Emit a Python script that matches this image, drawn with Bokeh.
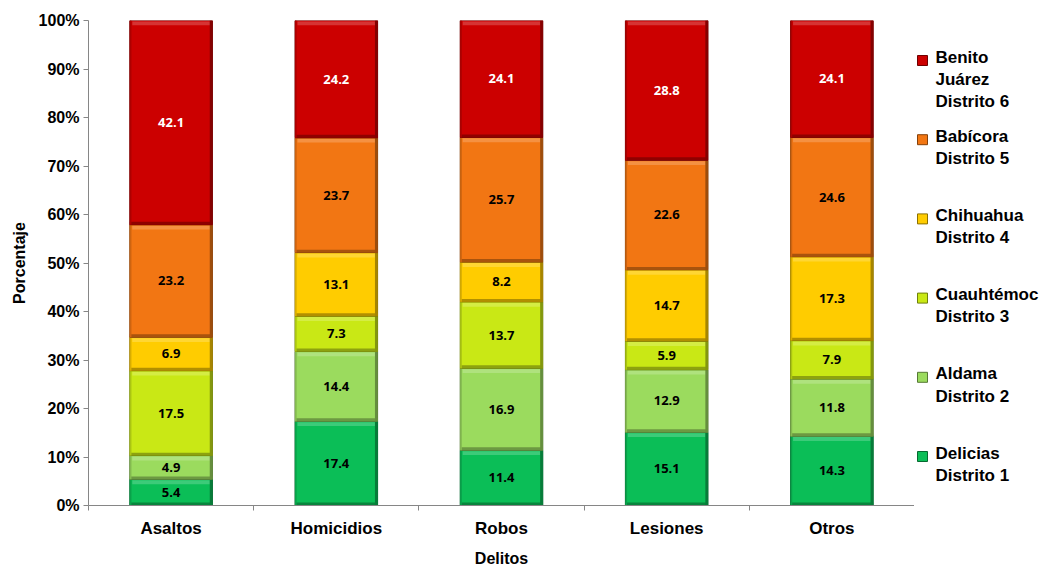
import numpy as np
from bokeh.plotting import figure
from bokeh.models import ColumnDataSource, Range1d, FixedTicker, PrintfTickFormatter
from bokeh.layouts import row
from bokeh.core.properties import value
from bokeh.embed import file_html
from bokeh.resources import INLINE

# ---------------- data ----------------
categories = ["Asaltos", "Homicidios", "Robos", "Lesiones", "Otros"]
series_names = ["Delicias\nDistrito 1", "Aldama\nDistrito 2", "Cuauhtémoc\nDistrito 3",
                "Chihuahua\nDistrito 4", "Babícora\nDistrito 5", "Benito\nJuárez\nDistrito 6"]
delicias = [5.4, 17.4, 11.4, 15.1, 14.3]
aldama = [4.9, 14.4, 16.9, 12.9, 11.8]
cuauhtemoc = [17.5, 7.3, 13.7, 5.9, 7.9]
chihuahua = [6.9, 13.1, 8.2, 14.7, 17.3]
babicora = [23.2, 23.7, 25.7, 22.6, 24.6]
benito_juarez = [42.1, 24.2, 24.1, 28.8, 24.1]
y_ticks = [0, 10, 20, 30, 40, 50, 60, 70, 80, 90, 100]

series = [delicias, aldama, cuauhtemoc, chihuahua, babicora, benito_juarez]
colors = ["#0BBE57", "#9BDB5E", "#C9E815", "#FFCC00", "#F27613", "#CC0000"]
label_colors = ["#000000", "#000000", "#000000", "#000000", "#000000", "#FFFFFF"]


def mix(hexc, other, t):
    c = np.array([int(hexc[i:i + 2], 16) for i in (1, 3, 5)], dtype=float)
    o = np.array([int(other[i:i + 2], 16) for i in (1, 3, 5)], dtype=float)
    m = np.clip(np.round(c * (1 - t) + o * t), 0, 255).astype(int)
    return "#%02X%02X%02X" % tuple(m)


vals = np.array(series, dtype=float)          # (6 series, 5 categories)
pct = vals / vals.sum(axis=0) * 100.0          # 100% stacked
bottoms = np.vstack([np.zeros(len(categories)), np.cumsum(pct, axis=0)[:-1]])
tops = bottoms + pct
xs = np.arange(len(categories)) + 0.5

FONT = "Liberation Sans"
AXIS_COL = "#868686"
BAR_W = 0.5
TOTAL_W, TOTAL_H = 1050, 569
MAIN_W = 914
FRAME_TOP, FRAME_BOTTOM = 20, 505

p = figure(width=MAIN_W, height=TOTAL_H, x_range=Range1d(0, len(categories)), y_range=Range1d(0, 100),
           output_backend="svg", toolbar_location=None, tools="",
           min_border_left=88, min_border_right=0, min_border_top=FRAME_TOP,
           min_border_bottom=TOTAL_H - FRAME_BOTTOM)
p.outline_line_color = None
p.xgrid.visible = False
p.ygrid.visible = False

for j in range(len(series)):
    src = ColumnDataSource(dict(x=xs, bottom=bottoms[j], top=tops[j],
                                mid=(bottoms[j] + tops[j]) / 2,
                                label=["%.1f" % v for v in vals[j]],
                                hl_top=tops[j] - 0.2, hl_bot=tops[j] - 1.0,
                                sh_top=bottoms[j] + 0.6, sh_bot=bottoms[j],
                                r_left=xs + BAR_W / 2 - 0.016, r_right=xs + BAR_W / 2,
                                l_left=xs - BAR_W / 2, l_right=xs - BAR_W / 2 + 0.01))
    c = colors[j]
    p.vbar(x="x", bottom="bottom", top="top", width=BAR_W, source=src,
           fill_color=c, line_color=mix(c, "#000000", 0.45), line_width=1)
    # bevel: highlight on top, shade at bottom and on sides
    p.vbar(x="x", bottom="hl_bot", top="hl_top", width=BAR_W - 0.03, source=src,
           fill_color=mix(c, "#FFFFFF", 0.2), line_color=None)
    p.vbar(x="x", bottom="sh_bot", top="sh_top", width=BAR_W, source=src,
           fill_color=mix(c, "#000000", 0.3), line_color=None)
    p.quad(left="r_left", right="r_right", bottom="bottom", top="top", source=src,
           fill_color=mix(c, "#000000", 0.35), line_color=None)
    p.quad(left="l_left", right="l_right", bottom="bottom", top="top", source=src,
           fill_color=mix(c, "#000000", 0.15), line_color=None)
    p.text(x="x", y="mid", text="label", source=src, text_align="center",
           text_baseline="middle", text_font=value("Open Sans"), text_font_style="bold",
           text_font_size="13px", text_color=label_colors[j])

# y axis
ya = p.yaxis[0]
ya.ticker = FixedTicker(ticks=y_ticks)
ya.formatter = PrintfTickFormatter(format="%d%%")
ya.axis_label = "Porcentaje"
ya.axis_label_text_font = FONT
ya.axis_label_text_font_style = "bold"
ya.axis_label_text_font_size = "16px"
ya.axis_label_text_color = "#000000"
ya.axis_label_standoff = 8
ya.major_label_text_font = FONT
ya.major_label_text_font_style = "bold"
ya.major_label_text_font_size = "16px"
ya.major_label_text_color = "#000000"
ya.major_label_standoff = 4
ya.major_tick_out = 5
ya.major_tick_in = 0
ya.minor_tick_line_color = None
ya.axis_line_color = AXIS_COL
ya.major_tick_line_color = AXIS_COL

# x axis: labels at centres, tick marks at category boundaries
xa = p.xaxis[0]
xa.ticker = FixedTicker(ticks=list(xs), minor_ticks=list(range(len(categories) + 1)))
xa.major_label_overrides = {float(x): c for x, c in zip(xs, categories)}
xa.major_tick_line_color = None
xa.major_tick_out = 0
xa.major_tick_in = 0
xa.minor_tick_out = 5
xa.minor_tick_in = 0
xa.minor_tick_line_color = AXIS_COL
xa.axis_line_color = AXIS_COL
xa.major_label_text_font = FONT
xa.major_label_text_font_style = "bold"
xa.major_label_text_font_size = "17px"
xa.major_label_text_color = "#000000"
xa.major_label_standoff = 8
xa.axis_label = "Delitos"
xa.axis_label_text_font = FONT
xa.axis_label_text_font_style = "bold"
xa.axis_label_text_font_size = "16px"
xa.axis_label_text_color = "#000000"
xa.axis_label_standoff = 9

# ---------------- legend (separate panel; its frame is aligned with the main frame) ----------------
LW, LH = TOTAL_W - MAIN_W, TOTAL_H
lg = figure(width=LW, height=LH, x_range=Range1d(0, LW), y_range=Range1d(FRAME_BOTTOM, FRAME_TOP),
            output_backend="svg", toolbar_location=None, tools="",
            min_border=0, min_border_left=0, min_border_right=0,
            min_border_top=FRAME_TOP, min_border_bottom=TOTAL_H - FRAME_BOTTOM)
lg.outline_line_color = None
lg.xaxis.visible = False
lg.yaxis.visible = False
lg.xgrid.visible = False
lg.ygrid.visible = False

order = list(range(len(series)))[::-1]   # Distrito 6 at the top
legend_top, legend_step = 60, 79.2
ly = [legend_top + legend_step * k for k in range(len(order))]
lsrc = ColumnDataSource(dict(
    x=[8] * len(order), y=ly, ty=[v - 13 for v in ly], tx=[21] * len(order),
    fill=[colors[j] for j in order], line=[mix(colors[j], "#000000", 0.45) for j in order],
    name=[series_names[j] for j in order]))
lg.rect(x="x", y="y", width=10, height=10, source=lsrc, fill_color="fill", line_color="line")
lg.text(x="tx", y="ty", text="name", source=lsrc, text_align="left", text_baseline="top",
        text_font=value(FONT), text_font_style="bold", text_font_size="17px",
        text_line_height=1.17, text_color="#000000")

layout = row(p, lg)
open("out.html", "w").write(file_html(layout, INLINE))
